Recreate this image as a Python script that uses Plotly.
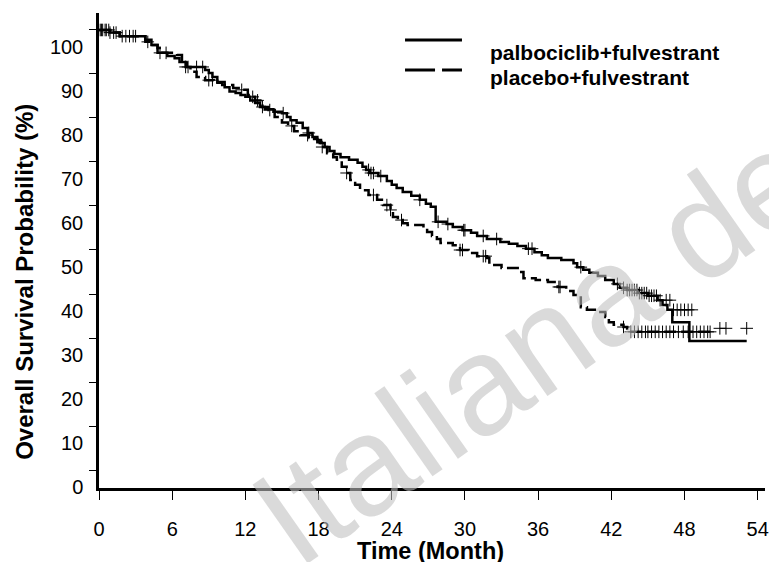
import numpy as np
import plotly.graph_objects as go

# ---------------- data ----------------
x_ticks = [0, 6, 12, 18, 24, 30, 36, 42, 48, 54]
y_ticks = [0, 10, 20, 30, 40, 50, 60, 70, 80, 90, 100]

# palbociclib + fulvestrant : step knots (time in months, survival %)
palbo_t = [0, 0.9, 1.7, 3.8, 4.3, 4.8, 5.6, 6.2, 6.6, 7.1, 8.7, 9.0, 9.3, 9.7,
           10.3, 10.7, 11.2, 11.6, 12.0, 12.4, 12.8, 13.2, 13.6, 14.3, 15.0,
           15.4, 15.7, 16.2, 16.7, 17.1, 17.5, 17.9, 18.2, 18.5, 18.9, 19.3,
           19.8, 20.5, 21.2, 21.6, 21.9, 22.2, 22.9, 23.6, 24.0, 24.4, 24.9,
           25.6, 26.3, 26.8, 27.2, 27.6, 28.5, 29.0, 29.8, 30.5, 31.0, 31.8,
           32.9, 33.6, 34.3, 35.0, 35.7, 36.3, 36.8, 37.9, 38.9, 39.2, 39.7,
           40.2, 40.9, 41.5, 42.2, 42.7, 43.3, 44.2, 45.0, 45.8, 46.2, 46.6,
           47.0, 48.4, 53.1]
palbo_s = [100, 99.4, 98.6, 97.8, 96.6, 94.8, 94.1, 93.6, 92.7, 91.6, 90.9, 90.2,
           89.3, 88.2, 87.0, 86.0, 85.7, 85.2, 84.8, 84.0, 83.4, 82.5, 82.0, 81.4,
           81.1, 80.2, 79.5, 78.9, 77.7, 76.6, 75.7, 75.0, 74.3, 73.4, 72.5, 71.8,
           71.1, 70.5, 69.8, 68.9, 68.2, 67.5, 66.8, 65.7, 64.8, 64.1, 63.2, 62.3,
           61.4, 60.5, 59.8, 56.4, 55.9, 55.2, 54.5, 53.9, 53.2, 52.5, 51.8, 51.4,
           50.9, 50.3, 49.5, 48.8, 48.2, 47.7, 47.0, 46.1, 45.5, 44.8, 44.1, 43.2,
           42.3, 41.4, 40.9, 40.2, 39.6, 38.6, 37.5, 36.4, 33.6, 29.3, 29.3]

# placebo + fulvestrant : step knots
plac_t = [0, 0.9, 1.7, 3.8, 4.4, 4.8, 5.2, 6.4, 6.8, 7.2, 7.5, 8.0, 8.7, 9.4,
          10.1, 11.0, 11.7, 12.2, 12.6, 12.8, 13.4, 13.9, 14.4, 15.0, 15.5,
          16.0, 16.5, 17.2, 17.9, 18.1, 18.7, 19.2, 19.5, 19.9, 20.3, 20.6,
          21.0, 21.4, 22.1, 22.8, 23.3, 23.9, 24.1, 24.5, 24.9, 25.3, 26.6,
          26.9, 27.3, 27.7, 28.0, 29.0, 29.6, 30.3, 31.0, 31.8, 32.0, 33.0,
          34.5, 34.8, 35.8, 36.8, 37.6, 38.3, 38.9, 39.5, 40.0, 41.1, 41.5,
          41.8, 42.2, 43.0, 43.3, 50.1]
plac_s = [100, 99.4, 98.6, 97.3, 96.6, 95.9, 94.8, 94.3, 93.2, 91.6, 90.5, 89.3,
          88.6, 88.0, 87.5, 86.8, 86.4, 85.2, 84.8, 84.0, 82.5, 81.8, 80.2, 79.0,
          78.2, 77.0, 76.1, 75.2, 74.5, 73.4, 72.0, 71.1, 70.5, 68.9, 67.5, 65.9,
          64.8, 63.6, 62.5, 61.4, 60.2, 59.1, 57.5, 56.8, 56.1, 55.7, 55.0, 54.1,
          53.2, 52.5, 51.6, 51.1, 50.0, 49.3, 48.6, 48.2, 46.6, 45.9, 45.0, 43.6,
          43.2, 42.7, 41.6, 40.7, 39.8, 37.0, 36.4, 35.9, 34.8, 33.6, 33.0, 32.5,
          31.4, 31.4]

# censoring times (marks sit on the curve)
palbo_cens = [0.1, 0.3, 0.6, 0.9, 1.4, 1.9, 2.5, 3.0, 5.0, 7.1, 7.3, 8.0, 8.5,
              15.1, 17.2, 22.1, 22.3, 22.5, 23.1, 26.3, 27.8, 28.6, 29.9, 30.0,
              31.5, 32.6, 35.2, 35.5, 39.5, 42.5, 43.0, 43.3, 43.5, 43.7, 43.9,
              44.1, 44.3, 44.5, 44.7, 44.9, 45.1, 45.3, 45.5, 45.7, 46.0]
# a few late palbociclib marks drawn above the final steps in the picture
palbo_tail_t = [46.5, 46.8, 47.1, 47.4, 47.7, 48.0, 48.3, 48.6]
palbo_tail_s = [38.6, 38.6, 36.4, 36.4, 36.4, 36.4, 36.4, 36.4]

plac_cens = [0.2, 0.5, 0.8, 1.2, 2.2, 2.8, 4.0, 5.5, 9.0, 9.3, 11.7, 12.6, 13.0,
             13.4, 14.0, 15.8, 17.1, 18.3, 20.3, 22.5, 23.6, 23.9, 24.8, 29.6,
             29.8, 31.5, 31.7, 37.7, 37.8, 43.0, 43.6, 43.9, 44.2, 44.5, 44.8,
             45.0, 45.3, 45.6, 45.9, 46.2, 46.5, 46.8, 47.1, 47.5, 47.9, 48.3,
             48.7, 49.0, 49.3, 49.6, 49.9, 50.1]
plac_tail_t = [50.9, 51.4, 53.1]
plac_tail_s = [32.2, 32.2, 32.2]

series_names = ["palbociclib+fulvestrant", "placebo+fulvestrant"]


def step_lookup(times, surv, pts):
    times = np.asarray(times)
    surv = np.asarray(surv)
    idx = np.searchsorted(times, np.asarray(pts), side="right") - 1
    return surv[np.clip(idx, 0, len(surv) - 1)]


FONT = "Liberation Sans, Arial, sans-serif"
fig = go.Figure()

fig.add_trace(go.Scatter(x=palbo_t, y=palbo_s, mode="lines", line_shape="hv",
                         line=dict(color="black", width=2.5), showlegend=False))
fig.add_trace(go.Scatter(x=plac_t, y=plac_s, mode="lines", line_shape="hv",
                         line=dict(color="black", width=2.5, dash="12px,5px"),
                         showlegend=False))

mk = dict(symbol="cross-thin", size=9, color="black",
          line=dict(color="black", width=1))
fig.add_trace(go.Scatter(x=palbo_cens + palbo_tail_t,
                         y=list(step_lookup(palbo_t, palbo_s, palbo_cens)) + palbo_tail_s,
                         mode="markers", marker=mk, showlegend=False))
fig.add_trace(go.Scatter(x=plac_cens + plac_tail_t,
                         y=list(step_lookup(plac_t, plac_s, plac_cens)) + plac_tail_s,
                         mode="markers", marker=mk, showlegend=False))

# legend drawn as in the reference (long line samples, text offset)
fig.add_shape(type="line", xref="paper", yref="paper", x0=0.4595, x1=0.545,
              y0=0.9432, y1=0.9432, line=dict(color="black", width=3))
fig.add_shape(type="line", xref="paper", yref="paper", x0=0.4595, x1=0.545,
              y0=0.88, y1=0.88, line=dict(color="black", width=3, dash="30px,7px"))
for name, yy in zip(series_names, [0.9158, 0.8632]):
    fig.add_annotation(text="<b>%s</b>" % name, xref="paper", yref="paper",
                       x=0.584, y=yy, xanchor="left", yanchor="middle",
                       showarrow=False, font=dict(family=FONT, size=21, color="black"))

# axis titles
fig.add_annotation(text="<b>Overall Survival Probability (%)</b>", xref="paper",
                   yref="paper", x=0, y=0.434, xshift=-74, textangle=-90,
                   xanchor="center", yanchor="middle", showarrow=False,
                   font=dict(family=FONT, size=24, color="black"))
fig.add_annotation(text="<b>Time (Month)</b>", xref="paper", yref="paper",
                   x=0.497, y=0, yshift=-63, xanchor="center", yanchor="middle",
                   showarrow=False, font=dict(family=FONT, size=23.5, color="black"))

# watermark
fig.add_annotation(text="Italiana del", xref="paper", yref="paper",
                   x=(546 - 99) / 666, y=(488 - 337) / 475, textangle=-35,
                   xanchor="center", yanchor="middle", showarrow=False,
                   font=dict(family=FONT, size=140, color="rgba(192,192,192,0.58)"))

fig.update_layout(
    width=769, height=562,
    margin=dict(l=99, r=4, t=13, b=74, autoexpand=False),
    paper_bgcolor="white", plot_bgcolor="white",
    font=dict(family=FONT, color="black"),
    xaxis=dict(range=[0, 54.6], tickvals=x_ticks, ticktext=[str(v) for v in x_ticks],
               ticks="outside", ticklen=9, tickwidth=1, tickcolor="black",
               showline=True, linewidth=3, linecolor="black", showgrid=False,
               zeroline=False, tickfont=dict(size=20), ticklabelstandoff=12),
    yaxis=dict(range=[-4.09, 103.86], tickvals=y_ticks, ticktext=[str(v) for v in y_ticks],
               ticks="outside", ticklen=7, tickwidth=1, tickcolor="black",
               showline=True, linewidth=2.5, linecolor="black", showgrid=False,
               zeroline=False, tickfont=dict(size=20), ticklabelshift=17,
               ticklabelstandoff=2),
)

# remove the default page margin so the 769x562 figure fills the window exactly
fig.write_html("out.html", config={"displayModeBar": False},
               post_script="document.body.style.margin='0px';"
                           "document.body.style.overflow='hidden';")
